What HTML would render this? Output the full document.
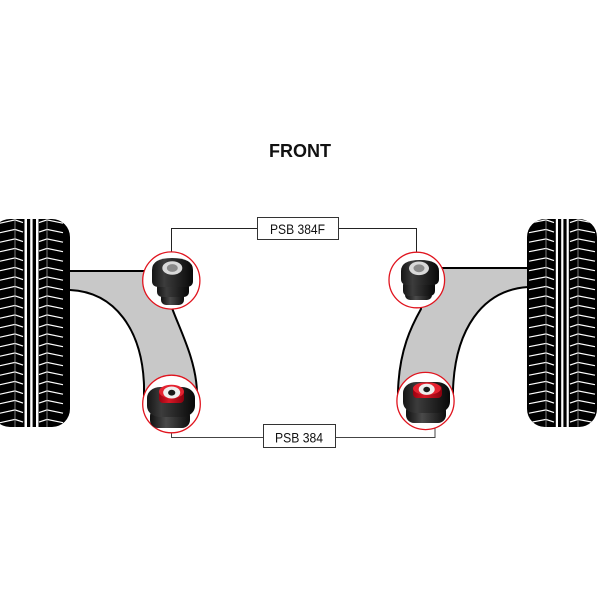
<!DOCTYPE html>
<html>
<head>
<meta charset="utf-8">
<style>
html,body{margin:0;padding:0;background:#fff;}
svg{display:block;}
text{font-family:"Liberation Sans",Arial,sans-serif;}
</style>
</head>
<body>
<svg width="600" height="600" viewBox="0 0 600 600" xmlns="http://www.w3.org/2000/svg">
<defs>
  <linearGradient id="blk" x1="0" y1="0" x2="1" y2="0">
    <stop offset="0" stop-color="#151515"/>
    <stop offset="0.3" stop-color="#3c3c3c"/>
    <stop offset="0.6" stop-color="#262626"/>
    <stop offset="1" stop-color="#080808"/>
  </linearGradient>
  <linearGradient id="metal" x1="0" y1="0" x2="1" y2="0">
    <stop offset="0" stop-color="#101010"/>
    <stop offset="0.4" stop-color="#4a4a4a"/>
    <stop offset="1" stop-color="#0e0e0e"/>
  </linearGradient>
  <linearGradient id="red" x1="0" y1="0" x2="1" y2="0">
    <stop offset="0" stop-color="#9a0010"/>
    <stop offset="0.4" stop-color="#d81826"/>
    <stop offset="1" stop-color="#8a000e"/>
  </linearGradient>
  <pattern id="trL" patternUnits="userSpaceOnUse" x="0" y="219" width="100" height="9.5">
    <polyline points="0,4.2 15,0.9 23,3.6" fill="none" stroke="#fff" stroke-width="1.2"/>
    <polyline points="39,3.6 47,0.9 63,4.2" fill="none" stroke="#fff" stroke-width="1.2"/>
  </pattern>
  <pattern id="trR" patternUnits="userSpaceOnUse" x="527" y="219" width="70" height="9.5">
    <polyline points="2,4.2 19,0.9 27,3.6" fill="none" stroke="#fff" stroke-width="1.2"/>
    <polyline points="43,3.6 51,0.9 68,4.2" fill="none" stroke="#fff" stroke-width="1.2"/>
  </pattern>
  <clipPath id="cL"><rect x="-8" y="219" width="78" height="208" rx="18" ry="18"/></clipPath>
  <clipPath id="cR"><rect x="527" y="219" width="70" height="208" rx="18" ry="18"/></clipPath>
</defs>

<rect width="600" height="600" fill="#fff"/>

<!-- FRONT -->
<text x="300" y="157" font-size="18" font-weight="bold" text-anchor="middle" fill="#111">FRONT</text>

<!-- connectors -->
<polyline points="171.5,252 171.5,228.5 257,228.5" fill="none" stroke="#222" stroke-width="1"/>
<polyline points="339,228.5 416.5,228.5 416.5,252" fill="none" stroke="#222" stroke-width="1"/>
<rect x="257.5" y="217.5" width="81" height="22" fill="#fff" stroke="#333" stroke-width="1"/>
<text x="270" y="234" font-size="14" fill="#111" textLength="55" lengthAdjust="spacingAndGlyphs">PSB 384F</text>

<polyline points="171.5,432 171.5,437.5 263,437.5" fill="none" stroke="#444" stroke-width="1"/>
<polyline points="336,437.5 435,437.5 435,428" fill="none" stroke="#444" stroke-width="1"/>
<rect x="263.5" y="424.5" width="72" height="23" fill="#fff" stroke="#333" stroke-width="1"/>
<text x="275" y="442.3" font-size="14" fill="#111" textLength="48" lengthAdjust="spacingAndGlyphs">PSB 384</text>

<!-- arms -->
<path d="M 60,271 L 171,271 L 172,308 C 180,330 196,360 197,392 L 197,400 L 144,400 L 144,385 C 142,330 115,292 70,290 L 60,290 Z" fill="#c8c8c8" stroke="#000" stroke-width="2" stroke-linejoin="round"/>
<path d="M 540,268 L 417,268 L 421,309 C 412,325 399,350 398,392 L 398,400 L 453,400 L 453,390 C 455,330 482,290 528,287 L 540,287 Z" fill="#c8c8c8" stroke="#000" stroke-width="2" stroke-linejoin="round"/>

<!-- left tire -->
<g clip-path="url(#cL)">
  <rect x="-8" y="219" width="78" height="208" fill="#000"/>
  <rect x="-8" y="219" width="78" height="208" fill="url(#trL)"/>
  <line x1="15" y1="219" x2="15" y2="427" stroke="#9a9a9a" stroke-width="0.8"/>
  <line x1="47" y1="219" x2="47" y2="427" stroke="#9a9a9a" stroke-width="0.8"/>
  <rect x="24.5" y="219" width="2.5" height="208" fill="#fff"/>
  <rect x="30.2" y="219" width="2.4" height="208" fill="#fff"/>
  <rect x="36" y="219" width="2.5" height="208" fill="#fff"/>
</g>

<!-- right tire -->
<g clip-path="url(#cR)">
  <rect x="527" y="219" width="70" height="208" fill="#000"/>
  <rect x="527" y="219" width="70" height="208" fill="url(#trR)"/>
  <line x1="546" y1="219" x2="546" y2="427" stroke="#9a9a9a" stroke-width="0.8"/>
  <line x1="578" y1="219" x2="578" y2="427" stroke="#9a9a9a" stroke-width="0.8"/>
  <rect x="555.8" y="219" width="2.2" height="208" fill="#fff"/>
  <rect x="561.2" y="219" width="2.2" height="208" fill="#fff"/>
  <rect x="566.6" y="219" width="2.2" height="208" fill="#fff"/>
</g>

<!-- circles -->
<circle cx="171.3" cy="280.5" r="28.6" fill="#fff" stroke="#e0141e" stroke-width="1.3"/>
<circle cx="416.8" cy="280" r="27.8" fill="#fff" stroke="#e0141e" stroke-width="1.3"/>
<circle cx="171.5" cy="404" r="28.8" fill="#fff" stroke="#e0141e" stroke-width="1.3"/>
<circle cx="425.5" cy="401" r="28.6" fill="#fff" stroke="#e0141e" stroke-width="1.3"/>

<!-- top-left bushing -->
<rect x="161" y="292" width="23" height="13" rx="5" fill="url(#metal)"/>
<rect x="157" y="282" width="32" height="15" rx="5" fill="url(#blk)"/>
<path d="M 152,281 L 152,270 Q 152,258 172,258 Q 193,258 193,270 L 193,281 Q 193,287 186,287 L 159,287 Q 152,287 152,281 Z" fill="url(#blk)"/>
<ellipse cx="172.3" cy="268" rx="10" ry="6.8" fill="#d9d9d9"/>
<ellipse cx="172.3" cy="268" rx="5.5" ry="3.9" fill="#8a8a8a"/>

<!-- top-right bushing -->
<rect x="405" y="289" width="27" height="11" rx="5" fill="url(#metal)"/>
<rect x="403" y="280" width="32" height="16" rx="5" fill="url(#blk)"/>
<path d="M 401,279 L 401,271 Q 401,260 420,260 Q 439,260 439,271 L 439,279 Q 439,285 432,285 L 408,285 Q 401,285 401,279 Z" fill="url(#blk)"/>
<ellipse cx="419" cy="268.3" rx="10" ry="6.8" fill="#d9d9d9"/>
<ellipse cx="419" cy="268.3" rx="5.5" ry="3.9" fill="#8a8a8a"/>

<!-- bottom-left bushing -->
<rect x="150" y="408" width="40" height="20" rx="8" fill="url(#metal)"/>
<rect x="147" y="387" width="48" height="30" rx="13" ry="11" fill="url(#blk)"/>
<rect x="159" y="389" width="25" height="14" rx="4" fill="url(#red)"/>
<ellipse cx="171.5" cy="391.5" rx="12.5" ry="6.8" fill="#e42230"/>
<ellipse cx="171.7" cy="392.5" rx="8.5" ry="6" fill="#eeeeee"/>
<ellipse cx="171.7" cy="392.7" rx="3.6" ry="2.9" fill="#1a1a1a"/>

<!-- bottom-right bushing -->
<rect x="406" y="403" width="40" height="20" rx="8" fill="url(#metal)"/>
<rect x="403" y="382" width="47" height="31" rx="13" ry="11" fill="url(#blk)"/>
<rect x="413" y="385" width="29" height="13" rx="4" fill="url(#red)"/>
<ellipse cx="427" cy="388.5" rx="14" ry="6.3" fill="#e42230"/>
<ellipse cx="426.7" cy="389.3" rx="8" ry="5.6" fill="#eeeeee"/>
<ellipse cx="426.7" cy="389.5" rx="3.4" ry="2.7" fill="#1a1a1a"/>

</svg>
</body>
</html>
